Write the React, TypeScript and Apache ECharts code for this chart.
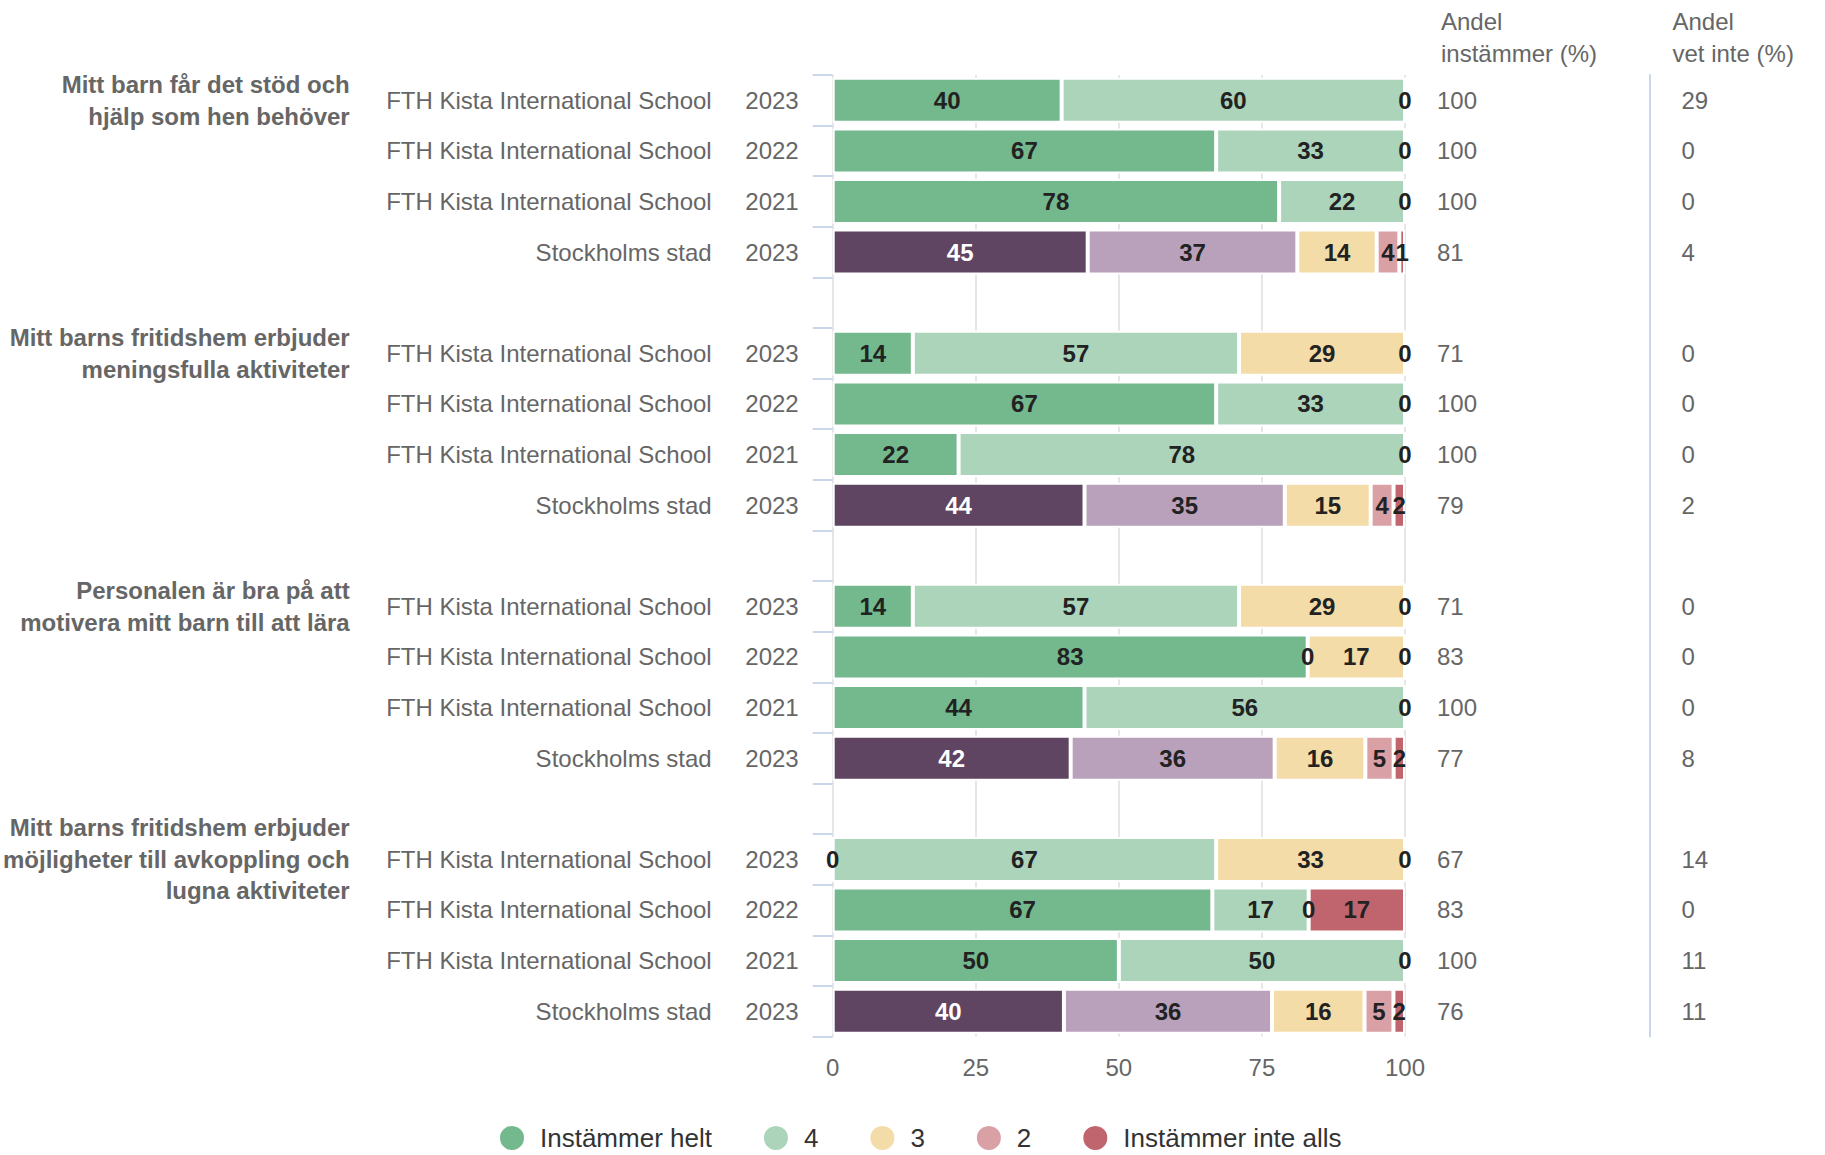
import React, { useEffect, useRef } from "react";
import * as echarts from "echarts";

// ---- Data ----
const groupTitles = [
  "Mitt barn får det stöd och\nhjälp som hen behöver", "", "", "", "",
  "Mitt barns fritidshem erbjuder\nmeningsfulla aktiviteter", "", "", "", "",
  "Personalen är bra på att\nmotivera mitt barn till att lära", "", "", "", "",
  "Mitt barns fritidshem erbjuder\nmöjligheter till avkoppling och\nlugna aktiviteter", "", "", "",
];
const F = "FTH Kista International School";
const S = "Stockholms stad";
const schools = [F, F, F, S, "", F, F, F, S, "", F, F, F, S, "", F, F, F, S];
const years = ["2023", "2022", "2021", "2023", "", "2023", "2022", "2021", "2023", "", "2023", "2022", "2021", "2023", "", "2023", "2022", "2021", "2023"];

const seriesNames = ["Instämmer helt", "4", "3", "2", "Instämmer inte alls"];
const valHelt = [40, 67, 78, 45, null, 14, 67, 22, 44, null, 14, 83, 44, 42, null, 0, 67, 50, 40];
const val4 = [60, 33, 22, 37, null, 57, 33, 78, 35, null, 57, 0, 56, 36, null, 67, 17, 50, 36];
const val3 = [0, 0, 0, 14, null, 29, 0, 0, 15, null, 29, 17, 0, 16, null, 33, 0, 0, 16];
const val2 = [0, 0, 0, 4, null, 0, 0, 0, 4, null, 0, 0, 0, 5, null, 0, 0, 0, 5];
const val1 = [0, 0, 0, 1, null, 0, 0, 0, 2, null, 0, 0, 0, 2, null, 0, 17, 0, 2];

const andelInstammer = ["100", "100", "100", "81", "", "71", "100", "100", "79", "", "71", "83", "100", "77", "", "67", "83", "100", "76"];
const andelVetInte = ["29", "0", "0", "4", "", "0", "0", "0", "2", "", "0", "0", "0", "8", "", "14", "0", "11", "11"];

const xTicks = [0, 25, 50, 75, 100];

// ---- Styles ----
const seriesColors = ["#74b88e", "#acd4bb", "#f3dca8", "#d9a0a6", "#c0646d"];
const stockholmColors = ["#5f4561", "#b9a1bb", null, null, null];
const stockholmLabelColors = ["#ffffff", null, null, null, null];
const FONT = "'Liberation Sans', Arial, Helvetica, sans-serif";
const GREY = "#666666";

export default function App() {
  const ref = useRef<HTMLDivElement>(null);

  useEffect(() => {
    if (!ref.current) return;
    const chart = echarts.init(ref.current, null, { renderer: "svg" });
    const allVals = [valHelt, val4, val3, val2, val1];
    const idx = years.map((_, i) => String(i));
    const totals = years.map((_, i) =>
      allVals.reduce((s, arr) => s + (arr[i] == null ? 0 : (arr[i] as number)), 0)
    );

    const series = allVals.map((arr, s) => ({
      name: seriesNames[s],
      type: "bar",
      stack: "total",
      barWidth: 45,
      itemStyle: { color: seriesColors[s], borderColor: "#ffffff", borderWidth: 2 },
      label: {
        show: true,
        position: "inside",
        fontFamily: FONT,
        fontSize: 24,
        fontWeight: "bold",
        color: "#222222",
        formatter: (p: any) => String(arr[p.dataIndex]),
      },
      data: arr.map((v, i) => {
        if (v == null) return null;
        const prev = s > 0 ? allVals[s - 1][i] : null;
        const showLabel = v > 0 || s === 0 || prev !== 0;
        const item: any = {
          value: (v / totals[i]) * 100,
          label: { show: showLabel },
        };
        if (schools[i] === S && stockholmColors[s]) {
          item.itemStyle = { color: stockholmColors[s] };
        }
        if (schools[i] === S && stockholmLabelColors[s]) {
          item.label.color = stockholmLabelColors[s];
        }
        return item;
      }),
    }));

    const hidden = { show: false };
    const baseCat = {
      type: "category",
      inverse: true,
      data: idx,
      splitLine: hidden,
      axisLine: { show: false, onZero: false },
      axisTick: hidden,
    };

    chart.setOption({
      animation: false,
      textStyle: { fontFamily: FONT },
      grid: { left: 827, right: 420, top: 75, bottom: 118.5, containLabel: false },
      legend: {
        data: seriesNames,
        left: 498,
        top: 1124,
        padding: 0,
        icon: "circle",
        itemWidth: 46,
        itemHeight: 26,
        itemGap: 50,
        textStyle: { fontFamily: FONT, fontSize: 26, color: "#333333" },
      },
      xAxis: {
        type: "value",
        min: xTicks[0],
        max: xTicks[xTicks.length - 1],
        interval: 25,
        axisLine: { show: false },
        axisTick: { show: false },
        axisLabel: { color: GREY, fontSize: 24, margin: 19, fontFamily: FONT },
        splitLine: { show: true, lineStyle: { color: "#e6e6e6", width: 2 } },
      },
      yAxis: [
        {
          ...baseCat,
          position: "left",
          axisTick: {
            show: true,
            length: 20,
            interval: 0,
            lineStyle: { color: "#ccd6eb", width: 2 },
          },
          axisLabel: {
            interval: 0,
            margin: 34,
            color: GREY,
            fontSize: 24,
            fontFamily: FONT,
            formatter: (_v: string, i: number) => years[i],
          },
        },
        {
          ...baseCat,
          position: "left",
          axisLabel: {
            interval: 0,
            margin: 121,
            color: GREY,
            fontSize: 24,
            fontFamily: FONT,
            formatter: (_v: string, i: number) => schools[i],
          },
        },
        {
          ...baseCat,
          position: "left",
          axisLabel: {
            interval: 0,
            margin: 483,
            color: GREY,
            fontSize: 24,
            fontWeight: "bold",
            lineHeight: 31.6,
            fontFamily: FONT,
            formatter: (_v: string, i: number) => groupTitles[i],
          },
        },
        {
          ...baseCat,
          position: "right",
          offset: 0,
          name: "Andel\ninstämmer (%)",
          nameLocation: "start",
          nameGap: 6,
          nameTextStyle: {
            color: GREY,
            fontSize: 24,
            fontFamily: FONT,
            align: "left",
            verticalAlign: "bottom",
            lineHeight: 31.6,
            padding: [0, 0, 0, 36],
          },
          axisLabel: {
            interval: 0,
            margin: 32,
            color: GREY,
            fontSize: 24,
            fontFamily: FONT,
            formatter: (_v: string, i: number) => andelInstammer[i],
          },
        },
        {
          ...baseCat,
          position: "right",
          offset: 244.5,
          axisLine: { show: true, onZero: false, lineStyle: { color: "#ccd6eb", width: 2 } },
          name: "Andel\nvet inte (%)",
          nameLocation: "start",
          nameGap: 6,
          nameTextStyle: {
            color: GREY,
            fontSize: 24,
            fontFamily: FONT,
            align: "left",
            verticalAlign: "bottom",
            lineHeight: 31.6,
            padding: [0, 0, 0, 23],
          },
          axisLabel: {
            interval: 0,
            margin: 32,
            color: GREY,
            fontSize: 24,
            fontFamily: FONT,
            formatter: (_v: string, i: number) => andelVetInte[i],
          },
        },
      ],
      series,
    });

    return () => chart.dispose();
  }, []);

  return (
    <div
      ref={ref}
      style={{ position: "absolute", left: 0, top: 0, width: 1825, height: 1155 }}
    />
  );
}
